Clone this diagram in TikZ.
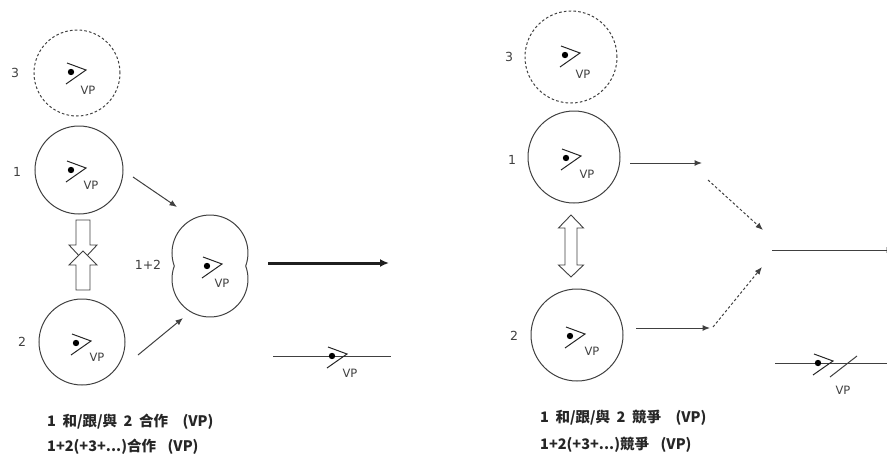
\documentclass[tikz,border=0pt]{standalone}
\usepackage{fontspec}
\setmainfont{DejaVu Sans}
\newfontfamily\cjk{Noto Sans CJK TC}
\usetikzlibrary{arrows.meta}
\begin{document}
\begin{tikzpicture}[x=1pt,y=1pt,
  ln/.style={draw=black!75, line width=1pt},
  circ/.style={circle, ln, minimum size=#1, inner sep=0pt},
  dcirc/.style={circ=#1, dash pattern=on 2.6pt off 2.2pt},
  lbl/.style={font=\fontsize{12.5}{14}\selectfont, text=black!75, inner sep=0pt},
  vp/.style={font=\fontsize{11.5}{13}\selectfont, text=black!75, inner sep=0pt},
  arr/.style={ln, -{Latex[length=7.5pt,width=6pt]}},
  darr/.style={arr, dash pattern=on 2.6pt off 2.2pt},
  blk/.style={ln, line width=0.9pt, fill=white},
  cjktxt/.style={font=\cjk\bfseries\fontsize{14.5}{16}\selectfont, text=black!85, inner sep=0pt, anchor=west},
  eyepic/.pic={\fill[black] (0,0) circle (3.2); \draw[ln, draw=black!85, line width=1pt] (-4,9) -- (15,2) -- (-5,-12);}
]
\useasboundingbox (0,0) rectangle (887,-453);

% ---------------- left part ----------------
\node[dcirc=86pt] (L3) at (77,-73) {};
\node[lbl] (L3n) at (15,-73) {3};
\pic at (71,-72) {eyepic};
\node[vp] (L3vp) at (88,-90) {VP};

\node[circ=88pt] (L1) at (79,-170) {};
\node[lbl] (L1n) at (17,-172) {1};
\pic at (71,-170) {eyepic};
\node[vp] (L1vp) at (91,-185) {VP};

\node[circ=86pt] (L2) at (82,-342) {};
\node[lbl] (L2n) at (22,-342) {2};
\pic at (76,-343) {eyepic};
\node[vp] (L2vp) at (97,-357) {VP};

% merging arrows (hollow)
\draw[blk] (76,-220) -- (90,-220) -- (90,-245) -- (97,-245) -- (83,-260) -- (69,-245) -- (76,-245) -- cycle;
\draw[blk] (76,-290) -- (90,-290) -- (90,-265) -- (97,-265) -- (83,-251) -- (69,-265) -- (76,-265) -- cycle;

% merged (peanut)
\coordinate (P) at (210,-266);
\draw[ln] (245.7,-266) arc[start angle=-20,end angle=200,radius=38]
          arc[start angle=160,end angle=380,radius=38] -- cycle;
\node[lbl] (Pn) at (148,-265) {1+2};
\pic at (207,-266) {eyepic};
\node[vp] (Pvp) at (222,-283) {VP};

\coordinate (a1s) at (133,-177); \coordinate (a1e) at (177,-207);
\coordinate (a2s) at (138,-355); \coordinate (a2e) at (183,-318);
\draw[arr] (a1s) -- (a1e);
\draw[arr] (a2s) -- (a2e);

\coordinate (t1) at (268,-263); \coordinate (t2) at (389,-263);
\draw[draw=black!88, line width=3pt, -{Latex[length=9pt,width=8pt]}] (t1) -- (t2);

\coordinate (l1) at (273,-356); \coordinate (l2) at (391,-356);
\draw[ln] (l1) -- (l2);
\pic at (332,-356) {eyepic};
\node[vp] (Lvp) at (350,-373) {VP};

\node[cjktxt] (Lt1) at (47,-422) {1\hspace{0.45em}和/跟/與\hspace{0.45em}2\hspace{0.45em}合作\hspace{1em}(VP)};
\node[cjktxt] (Lt2) at (47,-447) {1+2(+3+...)合作\hspace{0.8em}(VP)};

% ---------------- right part ----------------
\node[dcirc=92pt] (R3) at (571,-57) {};
\node[lbl] (R3n) at (509,-57) {3};
\pic at (565,-55) {eyepic};
\node[vp] (R3vp) at (583,-74) {VP};

\node[circ=92pt] (R1) at (574,-157) {};
\node[lbl] (R1n) at (512,-160) {1};
\pic at (566,-158) {eyepic};
\node[vp] (R1vp) at (587,-174) {VP};

\node[circ=92pt] (R2) at (577,-335) {};
\node[lbl] (R2n) at (514,-336) {2};
\pic at (570,-336) {eyepic};
\node[vp] (R2vp) at (592,-351) {VP};

% double hollow arrow
\draw[blk] (571,-215) -- (583.5,-228) -- (577,-228) -- (577,-265) -- (583.5,-265) -- (571,-277)
  -- (558.5,-265) -- (565,-265) -- (565,-228) -- (558.5,-228) -- cycle;

\coordinate (b1s) at (630,-163); \coordinate (b1e) at (702,-163);
\coordinate (b2s) at (708,-180); \coordinate (b2e) at (763,-230);
\coordinate (b3s) at (636,-328); \coordinate (b3e) at (710,-328);
\coordinate (b4s) at (713,-327); \coordinate (b4e) at (762,-267);
\draw[arr] (b1s) -- (b1e);
\draw[darr] (b2s) -- (b2e);
\draw[arr] (b3s) -- (b3e);
\draw[darr] (b4s) -- (b4e);

\coordinate (h1) at (772,-250); \coordinate (h2) at (894,-250);
\draw[arr] (h1) -- (h2);

\coordinate (m1) at (775,-363); \coordinate (m2) at (890,-363);
\draw[ln] (m1) -- (m2);
\pic at (818,-363) {eyepic};
\coordinate (s1) at (830,-377); \coordinate (s2) at (857,-356);
\draw[ln] (s1) -- (s2);
\node[vp] (Rvp) at (843,-390) {VP};

\node[cjktxt] (Rt1) at (540,-418) {1\hspace{0.45em}和/跟/與\hspace{0.45em}2\hspace{0.45em}競爭\hspace{1em}(VP)};
\node[cjktxt] (Rt2) at (540,-445) {1+2(+3+...)競爭\hspace{0.8em}(VP)};
\end{tikzpicture}
\end{document}
